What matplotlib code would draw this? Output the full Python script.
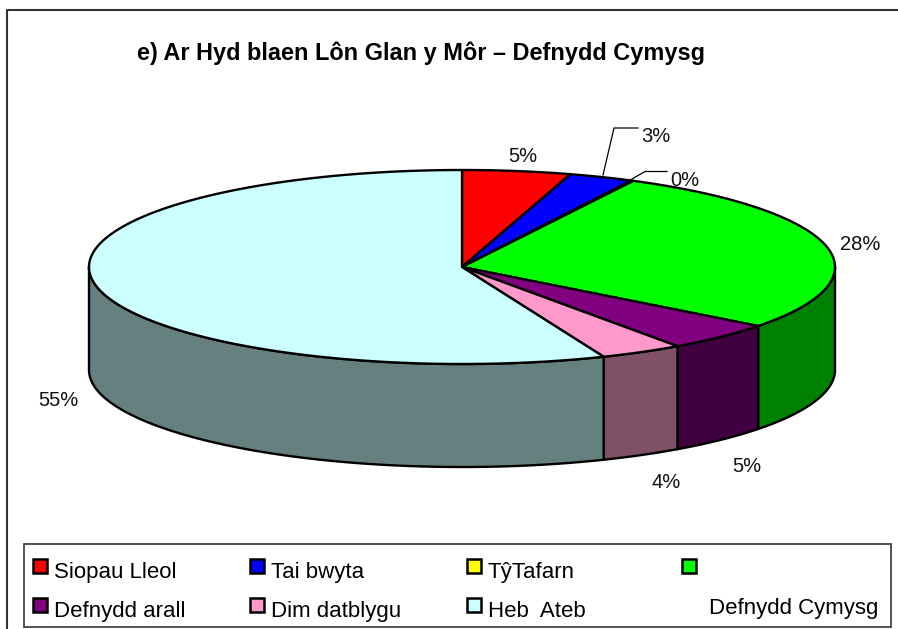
#!/usr/bin/env python3
"""3D style pie: Ar Hyd blaen Lon Glan y Mor - Defnydd Cymysg"""
import numpy as np
import matplotlib
matplotlib.use("Agg")
import matplotlib.pyplot as plt
from matplotlib.patches import Polygon, Rectangle

plt.rcParams["font.family"] = ["Liberation Sans", "DejaVu Sans"]

TITLE = "e) Ar Hyd blaen Lôn Glan y Môr – Defnydd Cymysg"
legend_labels = ["Siopau Lleol", "Tai bwyta", "TŷTafarn", "", "Defnydd arall", "Dim datblygu", "Heb  Ateb"]
values = [4.7, 2.8, 0.1, 27.8, 4.8, 3.6, 56.2]
pct_labels = ["5%", "3%", "0%", "28%", "5%", "4%", "55%"]
top_colors = ["#FF0000", "#0000FF", "#FFFF00", "#00FF00", "#800080", "#FF99CC", "#CCFFFF"]
side_colors = ["#800000", "#000080", "#808000", "#008000", "#400040", "#805066", "#668080"]

# pie geometry in pixels
CX, CY = 462, 267
RX, RY = 373, 97
DEPTH = 103
EDGE = 1.7

fig = plt.figure(figsize=(8.98, 6.29), dpi=100)
ax = fig.add_axes([0, 0, 1, 1])
ax.set_xlim(0, 898)
ax.set_ylim(629, 0)
ax.axis("off")


def rim(a0, a1, dy=0):
    # angles in degrees, clockwise from the top of the ellipse
    t = np.radians(np.linspace(a0, a1, max(2, int(abs(a1 - a0) * 2) + 1)))
    return np.column_stack([CX + RX * np.sin(t), CY + dy - RY * np.cos(t)])


# chart frame: only the left and top sides show
ax.plot([6.7, 6.7, 898], [629, 10, 10], color="#333333", lw=1.5, zorder=1)

ax.text(421, 53, TITLE, ha="center", va="center", fontsize=16.9, fontweight="bold", color="black")

edges = np.concatenate([[0], np.cumsum(values)]) * 3.6

# side walls, front half only
for i in range(len(values)):
    a0, a1 = max(edges[i], 90), min(edges[i + 1], 270)
    if a1 <= a0:
        continue
    top = rim(a0, a1)
    bottom = rim(a0, a1, DEPTH)[::-1]
    ax.add_patch(Polygon(np.vstack([top, bottom]), closed=True, fc=side_colors[i],
                         ec="black", lw=EDGE, joinstyle="round", zorder=2))

# top face
for i in range(len(values)):
    pts = np.vstack([[CX, CY], rim(edges[i], edges[i + 1])])
    ax.add_patch(Polygon(pts, closed=True, fc=top_colors[i], ec="black", lw=EDGE,
                         joinstyle="round", zorder=3))

# percentage labels
label_pos = [(523, 157), (655.5, 137), (685, 181), (860, 245), (747, 467), (666, 482), (58.5, 400)]
for s, (x, y) in zip(pct_labels, label_pos):
    ax.text(x, y, s, ha="center", va="center", fontsize=14.5, color="#111111", zorder=5)

# leader lines
ax.plot([603, 614, 638], [175, 128, 128], color="black", lw=0.9, zorder=4)
ax.plot([632, 645, 667], [179, 171.5, 171.5], color="black", lw=0.9, zorder=4)

# legend box
ax.add_patch(Rectangle((23.5, 544), 867.5, 83, fc="white", ec="#444444", lw=1.3, zorder=4))
col_x = [33, 250, 467, 682]
row_y = [578, 617]
for i, name in enumerate(legend_labels):
    c, r = i % 4, i // 4
    ax.add_patch(Rectangle((col_x[c], row_y[r] - 19), 14, 14, fc=top_colors[i], ec="black",
                           lw=1.8, zorder=5))
    if name:
        ax.text(col_x[c] + 21, row_y[r], name, ha="left", va="baseline", fontsize=16, zorder=5)
ax.text(709, 614, "Defnydd Cymysg", ha="left", va="baseline", fontsize=16, zorder=5)

fig.savefig("out.png", dpi=100)
